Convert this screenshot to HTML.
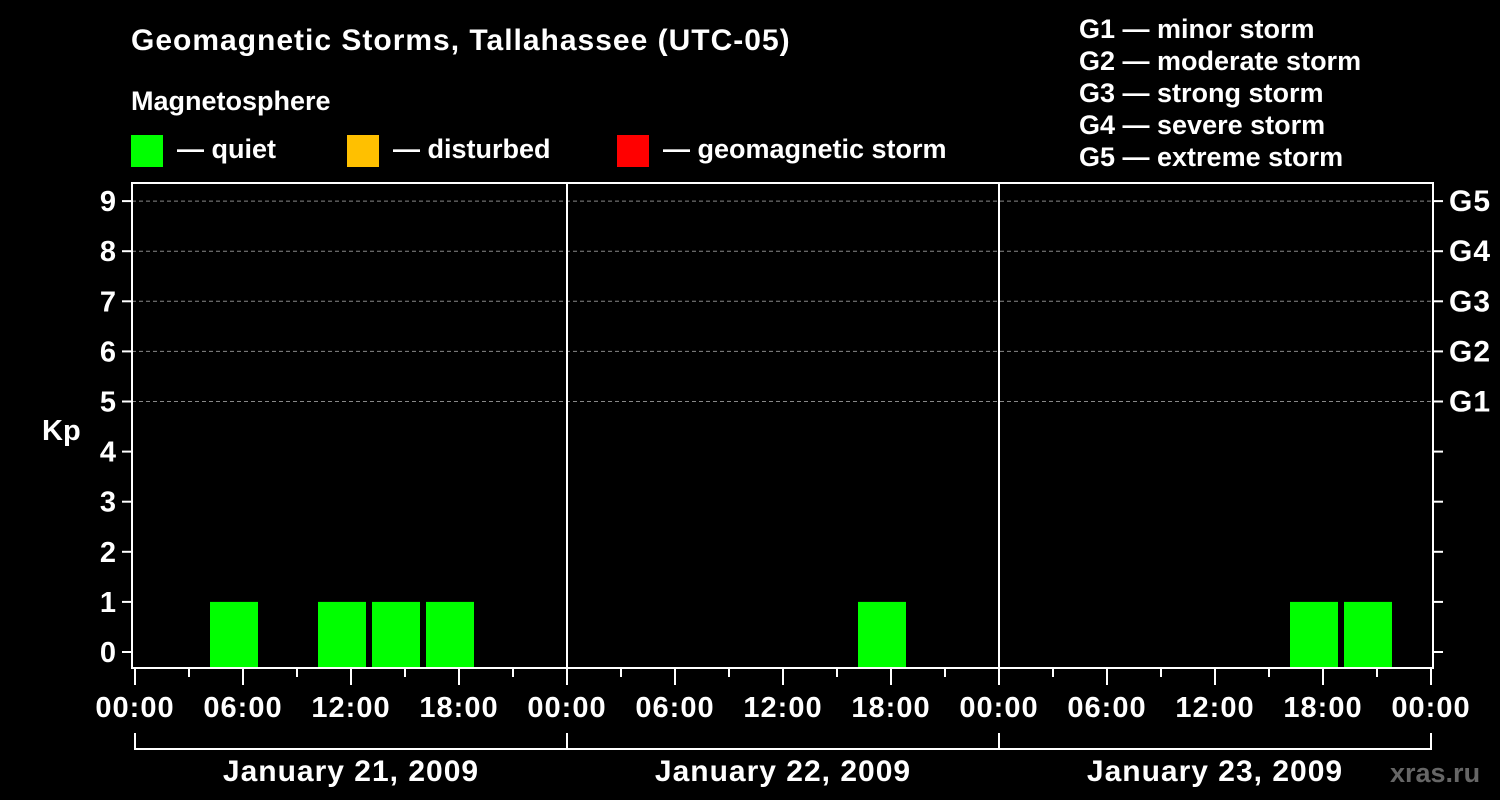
<!DOCTYPE html>
<html><head><meta charset="utf-8"><style>
body{margin:0;background:#000;}
svg{display:block;font-family:"Liberation Sans",Arial,sans-serif;font-weight:bold;fill:#fff;}
</style></head><body>
<svg id="c" width="1500" height="800" viewBox="0 0 1500 800">
<rect width="1500" height="800" fill="#000"/>
<text x="131" y="50" font-size="30" letter-spacing="1">Geomagnetic Storms, Tallahassee (UTC-05)</text>
<text x="131" y="110" font-size="27">Magnetosphere</text>
<g font-size="27"><rect x="131" y="135" width="32" height="32" fill="#00ff00"/><text x="177" y="158">— quiet</text></g>
<g font-size="27"><rect x="347" y="135" width="32" height="32" fill="#ffc000"/><text x="393" y="158">— disturbed</text></g>
<g font-size="27"><rect x="617" y="135" width="32" height="32" fill="#ff0000"/><text x="663" y="158">— geomagnetic storm</text></g>
<g font-size="27">
<text x="1079" y="38">G1 — minor storm</text>
<text x="1079" y="70">G2 — moderate storm</text>
<text x="1079" y="102">G3 — strong storm</text>
<text x="1079" y="134">G4 — severe storm</text>
<text x="1079" y="166">G5 — extreme storm</text>
</g>
<text x="42" y="440" font-size="29">Kp</text>
<g id="grid"></g><g id="bars"></g><g id="axes"></g>
<text x="1390" y="782" font-size="27" style="fill:#666">xras.ru</text>
</svg>
<script>
const binStartHours = [1,4,7,10,13,16,19,22];
const dayLabels = ["January 21, 2009","January 22, 2009","January 23, 2009"];
const day1Kp = [0,1,0,1,1,1,0,0];
const day2Kp = [0,0,0,0,0,1,0,0];
const day3Kp = [0,0,0,0,0,1,1,0];
const gLabels = ["G1","G2","G3","G4","G5"];
const hourTicks = ["00:00","06:00","12:00","18:00"];
const dayBars = [day1Kp, day2Kp, day3Kp];

const NS="http://www.w3.org/2000/svg";
const x0=135, pxPerHour=18, yZero=652, pxPerKp=50.1, plotTop=183, plotBottom=668;
const xs=h=>x0+h*pxPerHour;
const ys=k=>yZero-k*pxPerKp;
function mk(tag,attrs,parent){const e=document.createElementNS(NS,tag);for(const k in attrs)e.setAttribute(k,attrs[k]);parent.appendChild(e);return e;}
const grid=document.getElementById('grid'),bars=document.getElementById('bars'),axes=document.getElementById('axes');

for(let k=5;k<=9;k++){
  const l=mk('line',{x1:132,x2:1433,y1:ys(k),y2:ys(k),stroke:'#888','stroke-dasharray':'4,3','stroke-width':1},grid);
  
  
}
dayBars.forEach((arr,d)=>{
  binStartHours.forEach((h,i)=>{
    const v=arr[i]; if(!v) return;
    const top=ys(v);
    const col=v>=5?'#ff0000':(v>=4?'#ffc000':'#00ff00');
    const r=mk('rect',{x:xs(d*24+h)+3,y:top,width:48,height:plotBottom-1-top,fill:col},bars);
    
    
  });
});
const fr=mk('rect',{x:132,y:plotTop,width:1301,height:plotBottom-plotTop,fill:'none',stroke:'#fff','stroke-width':2},axes);


for(let d=1;d<3;d++){
  const l=mk('line',{x1:xs(d*24),x2:xs(d*24),y1:plotTop,y2:plotBottom,stroke:'#fff','stroke-width':2},axes);
  
  
}
for(let k=0;k<=9;k++){
  mk('line',{x1:122,x2:132,y1:ys(k),y2:ys(k),stroke:'#fff','stroke-width':2},axes);
  mk('line',{x1:1433,x2:1443,y1:ys(k),y2:ys(k),stroke:'#fff','stroke-width':2},axes);
  const t=mk('text',{x:116,y:ys(k)+10,'font-size':29,'text-anchor':'end'},axes);
  t.textContent=k;
  
  
}
gLabels.forEach((g,i)=>{
  const t=mk('text',{x:1449,y:ys(i+5)+10,'font-size':30,'letter-spacing':1},axes);
  t.textContent=g;
  
  
});
for(let h=0;h<=72;h+=3){
  const major=h%6===0;
  mk('line',{x1:xs(h),x2:xs(h),y1:plotBottom,y2:major?685:677,stroke:'#fff','stroke-width':2},axes);
  if(major){
    const t=mk('text',{x:xs(h),y:717,'font-size':29,'letter-spacing':1,'text-anchor':'middle'},axes);
    t.textContent=hourTicks[(h%24)/6];
    
    
  }
}
mk('line',{x1:xs(0),x2:xs(72),y1:749,y2:749,stroke:'#fff','stroke-width':2},axes);
for(let d=0;d<=3;d++) mk('line',{x1:xs(d*24),x2:xs(d*24),y1:733,y2:750,stroke:'#fff','stroke-width':2},axes);
dayLabels.forEach((s,d)=>{
  const t=mk('text',{x:xs(d*24+12),y:781,'font-size':30,'letter-spacing':1,'text-anchor':'middle'},axes);
  t.textContent=s;
  
  
});
</script>
</body></html>
